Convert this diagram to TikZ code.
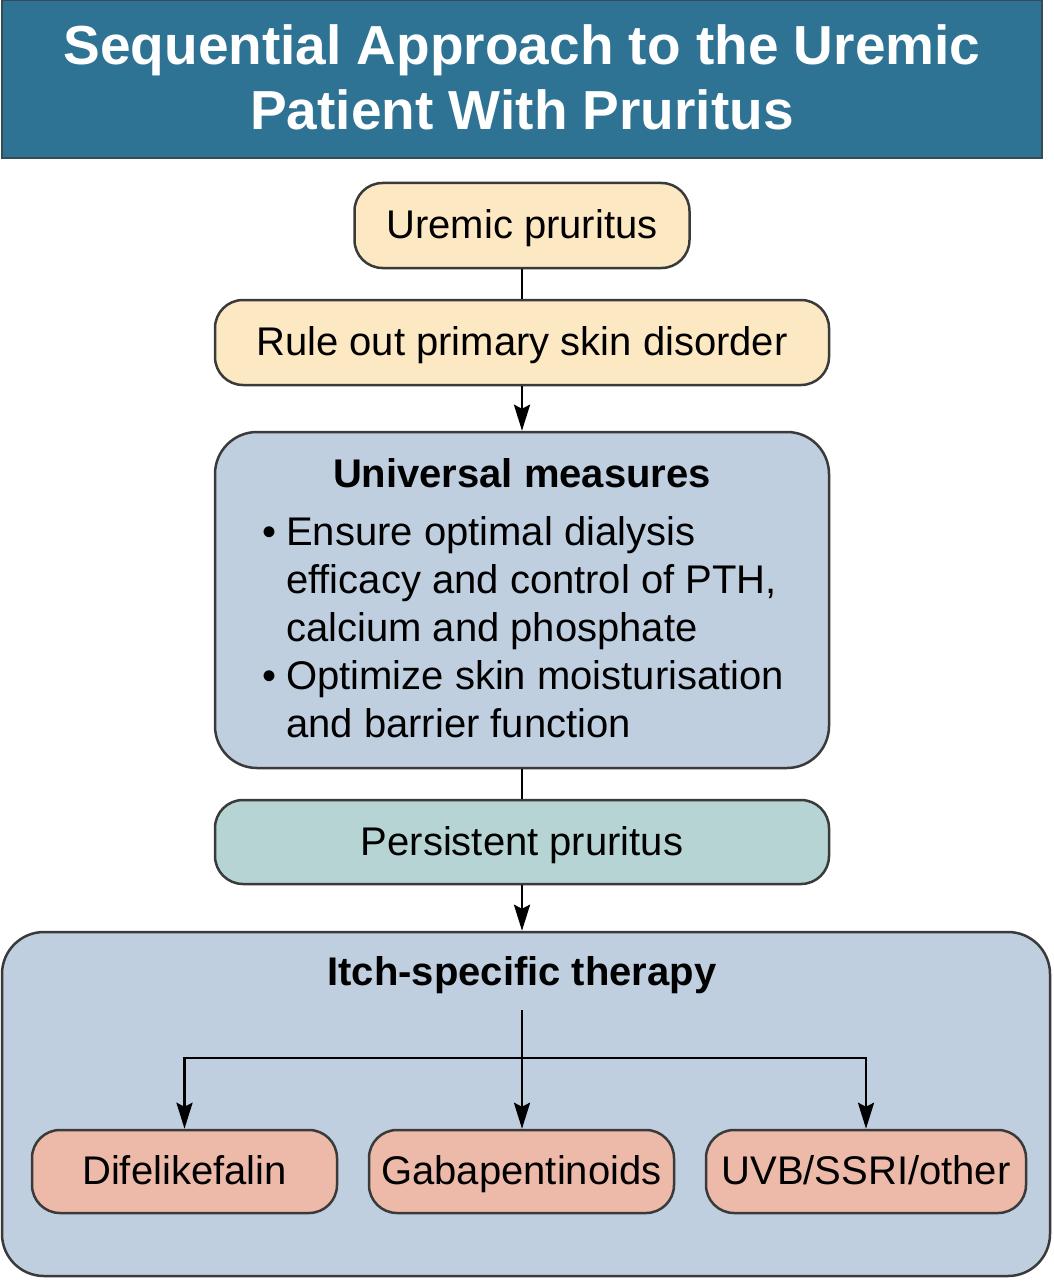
\documentclass[tikz,border=0pt]{standalone}
\usepackage{fontspec}
\setmainfont{Liberation Sans}
\usetikzlibrary{arrows.meta}
\definecolor{titleblue}{HTML}{2E7393}
\definecolor{cream}{HTML}{FCE8C2}
\definecolor{greyblue}{HTML}{BFCFE0}
\definecolor{paleteal}{HTML}{B7D4D4}
\definecolor{salmon}{HTML}{EDB9A9}
\definecolor{edge}{HTML}{3A3A3A}
\begin{document}
\begin{tikzpicture}[x=1pt,y=-1pt,
	box/.style={draw=edge,line width=2.5pt,rounded corners=28pt,inner sep=0pt,minimum height=85pt,
		text height=32pt,text depth=6pt,font=\fontsize{40}{48}\selectfont},
	bigbox/.style={box,rounded corners=42pt,fill=greyblue},
	arr/.style={line width=2.8pt,-{Stealth[length=26pt,width=16pt,inset=4pt]}},
	link/.style={line width=2.8pt}]
	\useasboundingbox (0,0) rectangle (1053,1284);
	\def\cx{522}
	% heading
	\node[fill=titleblue,draw=edge!70!titleblue,line width=2pt,minimum width=1040pt,minimum height=158pt,inner sep=0pt] (head) at (522,79) {};
	\node[text=white,align=center,font=\fontsize{55}{65}\selectfont\bfseries] (headtext) at (\cx,77) {Sequential Approach to the Uremic\\Patient With Pruritus};
	% upper chain
	\node[box,fill=cream,minimum width=335pt] (uremic) at (\cx,225.5) {Uremic pruritus};
	\node[box,fill=cream,minimum width=614pt] (ruleout) at (\cx,342.5) {Rule out primary skin disorder};
	\node[bigbox,minimum width=614pt,minimum height=336pt] (uni) at (\cx,600) {};
	\node[anchor=base,inner sep=0pt,font=\fontsize{40}{48}\selectfont\bfseries] (unititle) at (\cx,487) {Universal measures};
	\node[anchor=base west,inner sep=0pt,font=\fontsize{40}{48}\selectfont] (unilist) at (262,545)
		{\begin{tabular}[t]{@{}l@{}l@{}}
			\makebox[24pt][l]{\textbullet} & Ensure optimal dialysis\\
			& efficacy and control of PTH,\\
			& calcium and phosphate\\
			\makebox[24pt][l]{\textbullet} & Optimize skin moisturisation\\
			& and barrier function
		\end{tabular}};
	\node[box,fill=paleteal,minimum width=614pt,minimum height=84pt] (persist) at (\cx,842) {Persistent pruritus};
	% therapy
	\node[bigbox,minimum width=1048pt,minimum height=344pt] (itch) at (526,1104) {};
	\node[anchor=base,inner sep=0pt,font=\fontsize{40}{48}\selectfont\bfseries] (itchtitle) at (\cx,985) {Itch-specific therapy};
	\coordinate (itchtop) at (\cx,1010);
	\coordinate (fork) at (\cx,1058);
	\foreach \n/\x/\w/\t in {difel/184.5/305/Difelikefalin,gaba/521.5/305/Gabapentinoids,uvb/866/320/{UVB/SSRI/other}}
		\node[box,fill=salmon,minimum width=\w pt,minimum height=83pt] (\n) at (\x,1171.5) {\t};
	% connectors
	\draw[link] (uremic) -- (ruleout);
	\draw[arr] (ruleout) -- (uni);
	\draw[link] (uni) -- (persist);
	\draw[arr] (persist.south) -- (persist.south |- itch.north);
	\draw[arr] (itchtop) -- (itchtop |- gaba.north);
	\draw[arr] (fork) -| (difel.north);
	\draw[arr] (fork) -| (uvb.north);
\end{tikzpicture}
\end{document}
